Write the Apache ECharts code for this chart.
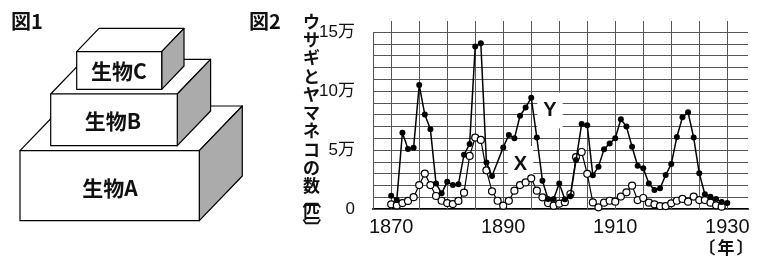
<!DOCTYPE html>
<html><head><meta charset="utf-8">
<script src="https://cdn.jsdelivr.net/npm/echarts@6/dist/echarts.min.js"></script>
<style>html,body{margin:0;padding:0;background:#fff}#c{width:768px;height:261px}</style>
</head><body><div id="c"></div>
<script>
const years = [1870,1871,1872,1873,1874,1875,1876,1877,1878,1879,
  1880,1881,1882,1883,1884,1885,1886,1887,1888,1889,
  1890,1891,1892,1893,1894,1895,1896,1897,1898,1899,
  1900,1901,1902,1903,1904,1905,1906,1907,1908,1909,
  1910,1911,1912,1913,1914,1915,1916,1917,1918,1919,
  1920,1921,1922,1923,1924,1925,1926,1927,1928,1929,1930];
// values in 万 (10,000)
const rabbitY = [1.13,0.76,6.47,5.08,5.2,10.5,8.0,6.75,2.17,1.33,
  2.3,2.03,2.1,4.6,5.5,13.76,14.04,3.95,2.8,null,
  5.22,6.27,5.99,7.9,8.6,9.43,6.05,2.4,0.85,0.85,
  2.17,0.82,1.08,4.15,7.2,7.09,2.85,3.59,5.06,5.56,
  5.99,7.6,6.98,5.28,3.67,3.45,2.17,1.61,1.75,2.88,
  3.81,6.1,7.77,8.19,6.05,3.02,1.25,1.04,0.84,0.6,0.5];
const lynxX = [0.4,0.3,0.5,0.68,1.0,2.03,3.0,2.03,1.1,0.7,
  0.5,0.42,0.68,1.38,4.5,6.05,5.85,3.28,1.5,0.7,
  0.28,0.69,1.55,2.03,2.25,2.6,1.55,0.99,0.5,0.28,
  0.45,0.58,1.27,4.4,4.83,2.98,0.56,0.14,0.54,0.7,
  0.62,1.05,1.41,1.98,0.76,0.93,0.54,0.4,0.25,0.25,
  0.48,0.7,0.85,0.62,1.05,0.76,0.76,0.54,0.31,0.2,null];
const xTickLabels = [1870,1890,1910,1930];
const yTickLabels = [0,5,10,15];
const xGridYears = [1870,1875,1880,1885,1890,1895,1900,1905,1910,1915,1920,1925,1930];
const yGridValues = [0,1,2,3,4,5,6,7,8,9,10,11,12,13,14,15];

const chart = echarts.init(document.getElementById('c'), null, {renderer:'canvas'});
const XMIN = 1866.75, XMAX = 1933.7;
const box = (front, d, z) => {
  const [x0,y0,x1,y1] = front;
  const [dx,dy] = d;
  const st = {stroke:'#000', lineWidth:1.2, lineJoin:'round'};
  return [
    {type:'polygon', z, shape:{points:[[x0,y0],[x1,y0],[x1+dx,y0+dy],[x0+dx,y0+dy]]}, style:Object.assign({fill:'#fff'},st)},
    {type:'polygon', z, shape:{points:[[x1,y0],[x1+dx,y0+dy],[x1+dx,y1+dy],[x1,y1]]}, style:Object.assign({fill:'#ababab'},st)},
    {type:'rect', z, shape:{x:x0,y:y0,width:x1-x0,height:y1-y0}, style:Object.assign({fill:'#fff'},st)}
  ];
};
const cjk = '"Noto Sans CJK JP", "Noto Sans", sans-serif';
const txt = (t, x, y, size, z, extra) => ({type:'text', z, x, y, ...(extra||{}), style:{text:t, fill:'#111', font:'bold '+size+'px '+cjk, textAlign:'center', textVerticalAlign:'middle'}});
const title = 'ウサギとヤマネコの数'.split('').join('\n');

chart.setOption({
  animation:false,
  grid:{left:373, right:20, top:21, bottom:52},
  xAxis:{type:'value', min:XMIN, max:XMAX, splitLine:{show:false}, axisTick:{show:false},
    axisLine:{show:true, onZero:false, lineStyle:{color:'#000', width:2}},
    axisLabel:{customValues:xTickLabels, fontSize:20, color:'#111', margin:8, fontFamily:'"Liberation Sans", Arial, sans-serif',
      formatter:v => String(v)}},
  yAxis:{type:'value', min:0, max:15.93, splitLine:{show:false}, axisTick:{show:false}, axisLine:{show:false},
    axisLabel:{customValues:yTickLabels, fontSize:17, color:'#111', margin:18, fontFamily:'"Liberation Sans", '+cjk,
      formatter:v => v === 0 ? '0' : v + '万'}},
  series:[
    {type:'line', data:[], z:1, silent:true,
      markLine:{z:1, silent:true, symbol:['none','none'], label:{show:false}, animation:false,
        lineStyle:{color:'#555', width:1, type:'solid'},
        data:[...xGridYears.map(v=>({xAxis:v})), ...yGridValues.map(v=>({yAxis:v})),
          [{coord:[XMIN,0]},{coord:[XMIN,15]}]]}},
    {type:'line', name:'X', z:10, data:years.map((yr,i)=>[yr, lynxX[i]]), connectNulls:true,
      symbol:'circle', symbolSize:7, showSymbol:true,
      lineStyle:{color:'#000', width:1.2}, itemStyle:{color:'#fff', borderColor:'#000', borderWidth:1.2}},
    {type:'line', name:'Y', z:11, data:years.map((yr,i)=>[yr, rabbitY[i]]), connectNulls:true,
      symbol:'circle', symbolSize:6, showSymbol:true,
      lineStyle:{color:'#000', width:1.5}, itemStyle:{color:'#000'}}
  ],
  graphic:{elements:[
    ...box([20,150.7,199.3,220.7],[43,-44.7],1),
    ...box([50.7,94,177.3,145.7],[33.3,-34.7],2),
    ...box([76.7,51.7,161.7,89.3],[22.3,-23.3],3),
    txt('生物A',110,188,21,4),
    txt('生物B',113,121,21,4),
    txt('生物C',119,71,21,4),
    {type:'text', z:4, x:11, y:21, style:{text:'図1', fill:'#111', font:'bold 20px '+cjk, textVerticalAlign:'middle'}},
    {type:'text', z:4, x:249, y:21, style:{text:'図2', fill:'#111', font:'bold 20px '+cjk, textVerticalAlign:'middle'}},
    {type:'text', z:4, x:311.5, y:12, style:{text:title, fill:'#111', font:'bold 17px '+cjk, lineHeight:18.3, textAlign:'center', textVerticalAlign:'top'}},
    txt('〔',311.5,199,19,4,{rotation:-Math.PI/2}),
    txt('匹',311.5,212,17,4),
    txt('〕',311.5,228,19,4,{rotation:-Math.PI/2}),
    {type:'text', z:5, x:550, y:110.5, style:{text:'Y', fill:'#111', font:'bold 20px "Liberation Sans", Arial, sans-serif', textAlign:'center', textVerticalAlign:'middle', backgroundColor:'#fff', padding:[8,6]}},
    {type:'text', z:5, x:520.5, y:164, style:{text:'X', fill:'#111', font:'bold 20px "Liberation Sans", Arial, sans-serif', textAlign:'center', textVerticalAlign:'middle', backgroundColor:'#fff', padding:[8,6]}},
    txt('〔',707,248,17,4),
    txt('年',726,248,17,4),
    txt('〕',745,248,17,4)
  ]}
});
</script></body></html>
